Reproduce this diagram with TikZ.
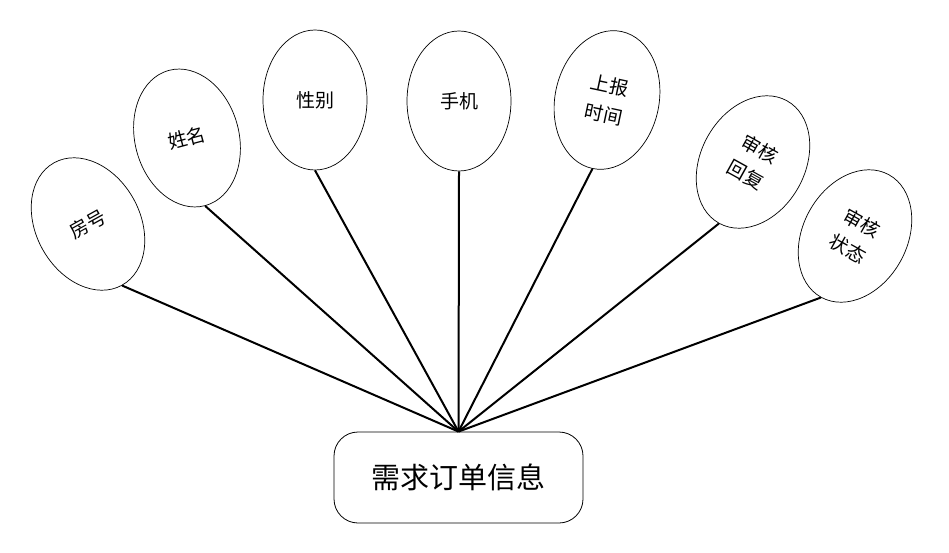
\documentclass[tikz,border=0pt]{standalone}
\usepackage{fontspec}
\setmainfont{Noto Sans CJK SC}
\usetikzlibrary{shapes.geometric}
\begin{document}
\begin{tikzpicture}[x=1pt,y=-1pt,
  attr/.style={draw, ellipse, line width=0.7pt, minimum width=104pt, minimum height=140pt,
    inner sep=0pt, align=center, font=\fontsize{19}{29}\selectfont},
  link/.style={line width=2pt},
  mainbox/.style={draw, rounded corners=24pt, line width=0.8pt, minimum width=249pt,
    minimum height=91pt, font=\fontsize{29}{32}\selectfont, inner sep=0pt}]
\useasboundingbox (0,0) rectangle (949,553);
\node[mainbox] (box) at (458.5,477.5) {需求订单信息};
\coordinate (apex) at (box.north);
\node[attr, rotate=29] (e1) at (88,224) {房号};
\node[attr, rotate=15] (e2) at (187,138) {姓名};
\node[attr] (e3) at (315,100) {性别};
\node[attr] (e4) at (459,101) {手机};
\node[attr, rotate=-12] (e5) at (607,100) {上报\\时间};
\node[attr, rotate=-29] (e6) at (753,162) {审核\\回复};
\node[attr, rotate=-29] (e7) at (855,236) {审核\\状态};
\foreach \e in {e1,e2,e3,e4,e5,e6,e7} \draw[link] (\e.south) -- (apex);
\end{tikzpicture}
\end{document}
